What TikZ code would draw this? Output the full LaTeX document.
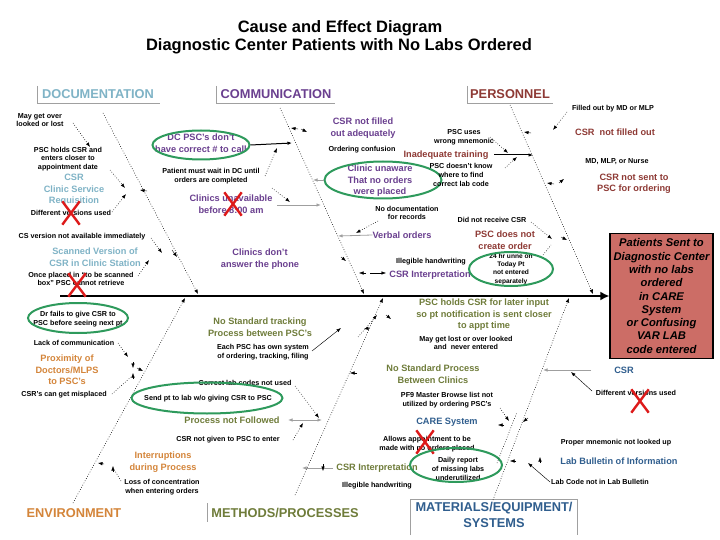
\documentclass[tikz,border=0pt]{standalone}
\usepackage{fontspec}
\setmainfont{Liberation Sans}
\usetikzlibrary{arrows.meta,shapes.geometric,shapes.misc}
\definecolor{cteal}{HTML}{7FB3C6}
\definecolor{cpurp}{HTML}{6A3F8F}
\definecolor{cred}{HTML}{8E3A35}
\definecolor{corng}{HTML}{D4853A}
\definecolor{coliv}{HTML}{6F7C3A}
\definecolor{cblue}{HTML}{305E8E}
\definecolor{cgrn}{HTML}{2E9A5C}
\definecolor{xred}{HTML}{DD1A1A}
\definecolor{effect}{HTML}{CC6D66}
\definecolor{hline}{HTML}{A0A0A0}
\begin{document}
\begin{tikzpicture}[x=1pt,y=-1pt,
  sm/.style={font=\fontsize{7.2}{8.8}\selectfont\bfseries, align=center, inner sep=0pt},
  cau/.style={font=\fontsize{9.2}{11.5}\selectfont\bfseries, align=center, inner sep=0pt},
  hdr/.style={font=\fontsize{12.8}{15}\selectfont\bfseries, inner sep=0pt},
  dotl/.style={dash pattern=on 0.7pt off 1.8pt, line width=0.55pt},
  bone/.style={dotl, -{Latex[length=4.5pt,width=3.6pt]}},
  sub/.style={dotl, -{Latex[length=4.5pt,width=3.4pt]}},
  tipa/.style={line width=0.4pt, -{Latex[length=4.5pt,width=3.4pt]}},
  gline/.style={draw=gray!75, line width=0.8pt, -{Latex[length=4.5pt,width=3.4pt]}},
  bline/.style={draw=black, line width=1pt, -{Latex[length=4.5pt,width=3.6pt]}},
  tline/.style={draw=black, line width=0.45pt, -{Latex[length=4.5pt,width=3.4pt]}},
  ell/.style={ellipse, draw=cgrn, line width=2pt, inner sep=0pt},
  xm/.style={cross out, draw=xred, line width=2.4pt, minimum width=15pt, minimum height=21pt, inner sep=0pt},
  hbox/.style={draw=hline, line width=0.8pt},
]
\useasboundingbox[fill=white] (0,0) rectangle (720,540);

% title
\node[font=\fontsize{16.5}{19}\selectfont\bfseries] (ttl1) at (340,28) {Cause and Effect Diagram};
\node[font=\fontsize{16.5}{19}\selectfont\bfseries] (ttl2) at (339,46) {Diagnostic Center Patients with No Labs Ordered};

% headers
\node[hdr,text=cteal] (hdoc) at (98,94) {DOCUMENTATION};
\draw[hbox] (37,86) |- (160,103);
\node[hdr,text=cpurp] (hcom) at (276,94) {COMMUNICATION};
\draw[hbox] (216,86) |- (335,103);
\node[hdr,text=cred] (hper) at (510,94) {PERSONNEL};
\draw[hbox] (467,86) |- (553,103);
\node[hdr,text=corng] (henv) at (74,513) {ENVIRONMENT};
\node[hdr,text=coliv] (hmet) at (285,513) {METHODS/PROCESSES};
\draw[hbox] (207,503) -- (207,522);
\node[hdr,text=cblue,align=center,font=\fontsize{12.8}{15.5}\selectfont\bfseries] (hmat) at (494,515) {MATERIALS/EQUIPMENT/\\SYSTEMS};
\draw[hbox] (410,535) |- (577,499) -- (577,535);

% effect and spine
\node[draw=black, fill=effect, line width=1.2pt, minimum width=103pt, minimum height=125pt, inner sep=0pt, align=center,
  font=\fontsize{11.2}{13.3}\selectfont\bfseries\itshape] (eff) at (661.5,296)
  {Patients Sent to\\Diagnostic Center\\with no labs\\ordered\\in CARE\\System\\or Confusing\\VAR LAB\\code entered};
\coordinate (sp0) at (60,296);
\draw[line width=2.6pt, -{Latex[length=9pt,width=9pt]}] (sp0) -- (eff.west);

% bones
\coordinate (dB1) at (103,113); \coordinate (dB2) at (198,294);
\coordinate (cB1) at (280,108); \coordinate (cB2) at (364,294);
\coordinate (pB1) at (510,105); \coordinate (pB2) at (593,294);
\coordinate (eB1) at (73,503);  \coordinate (eB2) at (185,298);
\coordinate (mB1) at (295,495); \coordinate (mB2) at (383,298);
\coordinate (tB1) at (493,500); \coordinate (tB2) at (569,298);
\draw[bone] (dB1) -- (dB2);
\draw[bone] (cB1) -- (cB2);
\draw[bone] (pB1) -- (pB2);
\draw[bone] (eB1) -- (eB2);
\draw[bone] (mB1) -- (mB2);
\draw[bone] (tB1) -- (tB2);

% ---------- DOCUMENTATION
\node[sm] (d1) at (40,120) {May get over\\looked or lost};
\node[sm] (d2) at (68,159) {PSC holds CSR and\\enters closer to\\appointment date};
\node[cau,text=cteal] (d3) at (74,190) {CSR\\Clinic Service\\Requisition};
\node[sm] (d4) at (71,213) {Different versions used};
\node[xm] (x1) at (71,213) {};
\node[sm] (d5) at (82,237) {CS version not available immediately};
\node[cau,text=cteal] (d6) at (95,257) {Scanned Version of\\CSR in Clinic Station};
\node[sm] (d7) at (81,279) {Once placed in ``to be scanned\\box'' PSC cannot retrieve};
\node[xm] (x2) at (77,285) {};
\coordinate (a1s) at (73,123); \coordinate (a1e) at (90,147);
\coordinate (a2s) at (110,170); \coordinate (a2e) at (125,188);
\coordinate (a3s) at (112,212); \coordinate (a3e) at (126,194);
\coordinate (a4s) at (147,191); \coordinate (a4e) at (140,190);
\coordinate (a5s) at (151,238); \coordinate (a5e) at (162,253);
\coordinate (a6s) at (138,276); \coordinate (a6e) at (149,260);
\coordinate (a7s) at (172,250); \coordinate (a7e) at (177,257);
\draw[sub] (a1s) -- (a1e);
\draw[sub] (a2s) -- (a2e);
\draw[sub] (a3s) -- (a3e);
\draw[tipa] (a4s) -- (a4e);
\draw[sub] (a5s) -- (a5e);
\draw[sub] (a6s) -- (a6e);
\draw[tipa] (a7s) -- (a7e);

% ---------- COMMUNICATION
\node[cau,text=cpurp] (c1) at (201,143) {DC PSC's don't\\have correct \# to call};
\node[ell, minimum width=97pt, minimum height=29pt] (e1) at (201,145) {};
\node[sm] (c2) at (211,176) {Patient must wait in DC until\\orders are completed};
\node[cau,text=cpurp] (c3) at (231,204) {Clinics unavailable\\before 8:00 am};
\node[xm] (x3) at (233,204) {};
\node[cau,text=cpurp] (c4) at (363,128) {CSR not filled\\out adequately};
\node[sm] (c5) at (362,150) {Ordering confusion};
\node[cau,text=cpurp] (c6) at (380,181) {Clinic unaware\\That no orders\\were placed};
\node[ell, minimum width=117pt, minimum height=37pt] (e2) at (383,180) {};
\node[sm] (c7) at (407,213) {No documentation\\for records};
\node[cau,text=cpurp] (c8) at (402,235) {Verbal orders};
\node[cau,text=cpurp] (c9) at (260,259) {Clinics don't\\answer the phone};
\node[sm] (c10) at (431,262) {Illegible handwriting};
\node[cau,text=cpurp] (c11) at (430,275) {CSR Interpretation};
\coordinate (b1s) at (298,129); \coordinate (b1e) at (291,128);
\coordinate (b2s) at (301,129); \coordinate (b2e) at (307,132);
\coordinate (b3e) at (292,143);
\coordinate (b4s) at (265,176); \coordinate (b4e) at (277,148);
\coordinate (b5s) at (272,188); \coordinate (b5e) at (290,202);
\coordinate (b6e) at (313,180);
\coordinate (b7s) at (277,205); \coordinate (b7e) at (321,205);
\coordinate (b8e) at (338,236);
\coordinate (b9s) at (378,221); \coordinate (b9e) at (356,233);
\coordinate (b10s) at (341,257); \coordinate (b10e) at (346,261);
\coordinate (b11s) at (366,273); \coordinate (b11e) at (359,273);
\coordinate (b12s) at (370,273); \coordinate (b12e) at (386,273);
\draw[tipa] (b1s) -- (b1e);
\draw[tipa] (b2s) -- (b2e);
\draw[bline] (e1.east) -- (b3e);
\draw[sub] (b4s) -- (b4e);
\draw[sub] (b5s) -- (b5e);
\draw[gline] (e2.west) -- (b6e);
\draw[gline] (b7s) -- (b7e);
\draw[gline] (c8.west) -- (b8e);
\draw[sub] (b9s) -- (b9e);
\draw[tipa] (b10s) -- (b10e);
\draw[tipa] (b11s) -- (b11e);
\draw[tline] (b12s) -- (b12e);

% ---------- PERSONNEL
\node[cau,text=cred] (p1) at (505,240) {PSC does not\\create order};
\node[sm,font=\fontsize{6.6}{8.4}\selectfont\bfseries] (p2) at (511,269) {24 hr unne on\\Today Pt\\not entered\\separately};
\node[ell, minimum width=84pt, minimum height=34pt] (e3) at (511,269) {};
\node[sm] (p3) at (492,220) {Did not receive CSR};
\node[sm] (p4) at (613,109) {Filled out by MD or MLP};
\node[cau,text=cred] (p5) at (615,132) {CSR\ \ not filled out};
\node[sm] (p6) at (464,137) {PSC uses\\wrong mnemonic};
\node[cau,text=cred] (p7) at (446,155) {Inadequate training};
\node[sm] (p8) at (461,175) {PSC doesn't know\\where to find\\correct lab code};
\node[sm] (p9) at (617,162) {MD, MLP, or Nurse};
\node[cau,text=cred] (p10) at (634,184) {CSR not sent to\\PSC for ordering};
\coordinate (q1s) at (567,112); \coordinate (q1e) at (553,130);
\coordinate (q2s) at (531,133); \coordinate (q2e) at (524,132);
\coordinate (q3s) at (490,137); \coordinate (q3e) at (508,153);
\coordinate (q4s) at (494,155); \coordinate (q4e) at (533,155);
\coordinate (q5s) at (505,168); \coordinate (q5e) at (517,157);
\coordinate (q6s) at (554,184); \coordinate (q6e) at (547,183);
\coordinate (q7s) at (559,183); \coordinate (q7e) at (564,179);
\coordinate (q8s) at (531,222); \coordinate (q8e) at (552,239);
\coordinate (q9s) at (561,237); \coordinate (q9e) at (567,240);
\coordinate (q10s) at (543,255); \coordinate (q10e) at (551,245);
\draw[sub] (q1s) -- (q1e);
\draw[tipa] (q2s) -- (q2e);
\draw[sub] (q3s) -- (q3e);
\draw[bline] (q4s) -- (q4e);
\draw[sub] (q5s) -- (q5e);
\draw[tipa] (q6s) -- (q6e);
\draw[tipa] (q7s) -- (q7e);
\draw[sub] (q8s) -- (q8e);
\draw[tipa] (q9s) -- (q9e);
\draw[dotl] (q10s) -- (q10e);

% ---------- ENVIRONMENT
\node[sm] (v1) at (78,319) {Dr fails to give CSR to\\PSC before seeing next pt};
\node[ell, minimum width=100pt, minimum height=30pt] (e4) at (78,318) {};
\node[sm] (v2) at (74,343) {Lack of communication};
\node[cau,text=corng] (v3) at (67,370) {Proximity of\\Doctors/MLPS\\to PSC's};
\node[sm] (v4) at (64,395) {CSR's can get misplaced};
\node[cau,text=corng] (v5) at (163,462) {Interruptions\\during Process};
\node[sm] (v6) at (162,487) {Loss of concentration\\when entering orders};
\coordinate (r1s) at (118,343); \coordinate (r1e) at (128,357);
\coordinate (r2s) at (133,362); \coordinate (r2e) at (133,368);
\coordinate (r3s) at (133,379); \coordinate (r3e) at (133,373);
\coordinate (r4s) at (137,368); \coordinate (r4e) at (143,371);
\coordinate (r5s) at (112,394); \coordinate (r5e) at (131,377);
\coordinate (r6s) at (104,464); \coordinate (r6e) at (98,463);
\coordinate (r7s) at (113,472); \coordinate (r7e) at (113,466);
\coordinate (r8s) at (121,481); \coordinate (r8e) at (115,471);
\draw[sub] (r1s) -- (r1e);
\draw[tipa] (r2s) -- (r2e);
\draw[tipa] (r3s) -- (r3e);
\draw[tipa] (r4s) -- (r4e);
\draw[dotl] (r5s) -- (r5e);
\draw[tipa] (r6s) -- (r6e);
\draw[tipa] (r7s) -- (r7e);
\draw[dotl] (r8s) -- (r8e);

% ---------- METHODS / PROCESSES
\node[cau,text=coliv] (m1) at (260,327) {No Standard tracking\\Process between PSC's};
\node[sm] (m2) at (263,352) {Each PSC has own system\\of ordering, tracking, filing};
\node[cau,text=coliv] (m3) at (484,315) {PSC holds CSR for later input\\so pt notification is sent closer\\to appt time};
\node[sm] (m4) at (466,343) {May get lost or over looked\\and\ \ never entered};
\node[cau,text=coliv] (m5) at (433,374) {No Standard Process\\Between Clinics};
\node[sm] (m6) at (245,383) {Correct lab codes not used};
\node[sm] (m7) at (208,399) {Send pt to lab w/o giving CSR to PSC};
\node[ell, minimum width=151pt, minimum height=31pt] (e5) at (207,398) {};
\node[cau,text=coliv] (m8) at (232,420) {Process not Followed};
\node[sm] (m9) at (228,440) {CSR not given to PSC to enter};
\node[cau,text=coliv] (m10) at (377,468) {CSR Interpretation};
\node[sm] (m11) at (377,486) {Illegible handwriting};
\coordinate (n1s) at (312,351); \coordinate (n1e) at (341,328);
\coordinate (n2s) at (358,337); \coordinate (n2e) at (377,315);
\coordinate (n3s) at (370,328); \coordinate (n3e) at (364,329);
\coordinate (n4s) at (386,315); \coordinate (n4e) at (391,319);
\coordinate (n5s) at (357,373); \coordinate (n5e) at (350,373);
\coordinate (n6s) at (295,386); \coordinate (n6e) at (319,418);
\coordinate (n7s) at (322,420); \coordinate (n7e) at (288,420);
\coordinate (n8s) at (293,440); \coordinate (n8e) at (303,423);
\coordinate (n9s) at (333,468); \coordinate (n9e) at (302,468);
\coordinate (n10s) at (323,464); \coordinate (n10e) at (323,471);
\draw[tline] (n1s) -- (n1e);
\draw[sub] (n2s) -- (n2e);
\draw[tipa] (n3s) -- (n3e);
\draw[tipa] (n4s) -- (n4e);
\draw[tipa] (n5s) -- (n5e);
\draw[sub] (n6s) -- (n6e);
\draw[draw=gray!75, line width=0.8pt, {Latex[length=4.5pt,width=3.4pt]}-{Latex[length=4.5pt,width=3.4pt]}] (n7s) -- (n7e);
\draw[sub] (n8s) -- (n8e);
\draw[gline] (n9s) -- (n9e);
\draw[tipa] (n10s) -- (n10e);

% ---------- MATERIALS / SYSTEMS
\node[sm] (s1) at (447,400) {PF9 Master Browse list not\\utilized by ordering PSC's};
\node[cau,text=cblue] (s2) at (447,422) {CARE System};
\node[sm] (s3) at (427,444) {Allows appointment to be\\made with no orders placed};
\node[xm] (x4) at (425,442) {};
\node[sm] (s4) at (458,469) {Daily report\\of missing labs\\underutilized};
\node[ell, minimum width=92pt, minimum height=34pt] (e6) at (456,465) {};
\node[cau,text=cblue] (s5) at (624,370) {CSR};
\node[sm] (s6) at (636,393) {Different versions used};
\node[xm] (x5) at (640,401) {};
\node[sm] (s7) at (616,443) {Proper mnemonic not looked up};
\node[cau,text=cblue] (s8) at (619,461) {Lab Bulletin of Information};
\node[sm] (s9) at (600,482) {Lab Code not in Lab Bulletin};
\coordinate (o1s) at (500,408); \coordinate (o1e) at (509,421);
\coordinate (o2s) at (504,425); \coordinate (o2e) at (498,425);
\coordinate (o3s) at (528,418); \coordinate (o3e) at (523,422);
\coordinate (o4s) at (516,461); \coordinate (o4e) at (510,461);
\coordinate (o5s) at (550,482); \coordinate (o5e) at (528,463);
\coordinate (o6s) at (540,463); \coordinate (o6e) at (540,457);
\coordinate (o7s) at (591,370); \coordinate (o7e) at (543,370);
\coordinate (o8s) at (592,391); \coordinate (o8e) at (571,372);
\coordinate (o9s) at (497,463); \coordinate (o9e) at (517,412);
\draw[sub] (o1s) -- (o1e);
\draw[tipa] (o2s) -- (o2e);
\draw[tipa] (o3s) -- (o3e);
\draw[tipa] (o4s) -- (o4e);
\draw[tline] (o5s) -- (o5e);
\draw[tipa] (o6s) -- (o6e);
\draw[gline] (o7s) -- (o7e);
\draw[tline] (o8s) -- (o8e);
\draw[dotl] (o9s) -- (o9e);
\end{tikzpicture}
\end{document}
